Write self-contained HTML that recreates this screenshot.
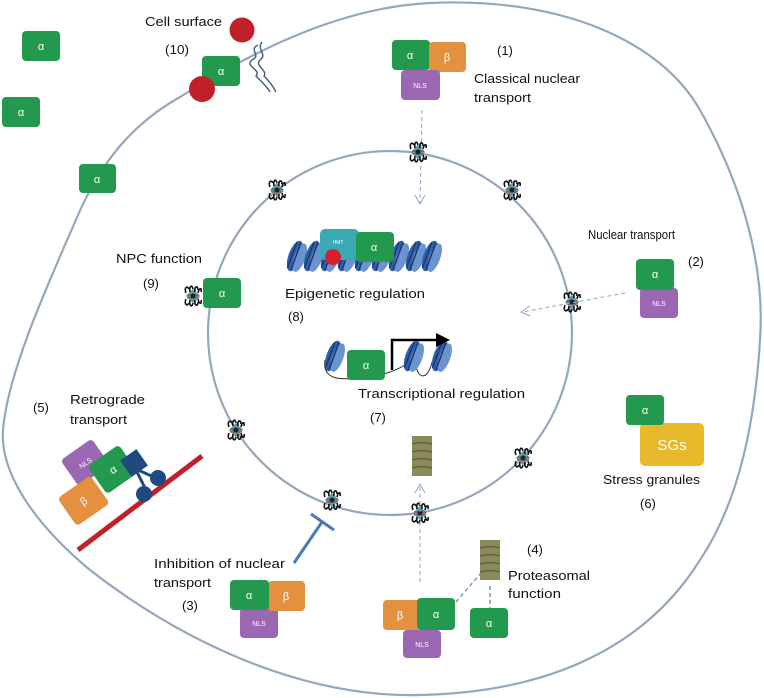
<!DOCTYPE html>
<html><head><meta charset="utf-8"><style>
html,body{margin:0;padding:0;background:#fff;}
svg{display:block;}
text{font-family:"Liberation Sans",sans-serif;fill:#111;}
.lb{font-size:13px;}
.w{fill:#fff;font-size:11px;}
.s{fill:#fff;font-size:7px;}
</style></head><body>
<svg width="764" height="698" viewBox="0 0 764 698" xmlns="http://www.w3.org/2000/svg">
<defs>
<g id="npc">
<rect x="-5" y="-5" width="10" height="10" fill="#4aa3a8" transform="rotate(45)"/>
<path d="M-7,-3 C-9,-8 -6,-11 -4,-7 M-3,-4 C-4,-10 -1,-12 0,-7 M2,-4 C1,-10 5,-11 5,-6 M5,-3 C6,-8 9,-9 8,-4" stroke="#111" stroke-width="1.6" fill="none"/>
<path d="M-7,3 C-9,8 -6,11 -4,7 M-3,4 C-4,10 -1,12 0,7 M2,4 C1,10 5,11 5,6 M5,3 C6,8 9,9 8,4" stroke="#111" stroke-width="1.6" fill="none"/>
<path d="M-6,-1 L6,-1 M-6,2 L6,2" stroke="#c0283a" stroke-width="1"/>
<circle r="2.5" fill="#222"/>
</g>
<g id="nuc">
<ellipse rx="6.5" ry="16" fill="#2e5fa8"/>
<ellipse cx="5" rx="5.5" ry="15" fill="#6a93cf"/>
<line x1="1" y1="-14" x2="1" y2="14" stroke="#1a3566" stroke-width="1.4"/>
<line x1="-3" y1="-14" x2="-3" y2="14" stroke="#1a3566" stroke-width="1.2"/>
</g>
<g id="prot">
<rect x="0" y="0" width="20" height="40" fill="#8a8a5a"/>
<path d="M0,8 Q10,5 20,8 M0,16 Q10,13 20,16 M0,24 Q10,21 20,24 M0,32 Q10,29 20,32" stroke="#5d5d3a" stroke-width="1.2" fill="none"/>
</g>
</defs>

<path d="M180,97 C240,60 330,8 430,3 C560,-3 660,40 700,110 C745,190 765,270 760,340 C755,420 740,500 700,560 C650,640 560,692 420,695 C300,698 180,640 90,570 C30,520 0,470 3,430 C8,370 50,280 78,215 C100,165 130,125 180,97 Z" fill="none" stroke="#94a7bd" stroke-width="2.2"/>
<circle cx="390" cy="333" r="182" fill="none" stroke="#94a7bd" stroke-width="2.2"/>

<rect x="22" y="31" width="38" height="30" rx="4" fill="#22994c"/><text class="w" x="41" y="50" text-anchor="middle">α</text>
<rect x="2" y="97" width="38" height="30" rx="4" fill="#22994c"/><text class="w" x="21" y="116" text-anchor="middle">α</text>
<rect x="79" y="164" width="37" height="29" rx="4" fill="#22994c"/><text class="w" x="97" y="183" text-anchor="middle">α</text>

<text class="lb" x="145" y="26" textLength="77" lengthAdjust="spacingAndGlyphs">Cell surface</text>
<text class="lb" x="165" y="54" textLength="24" lengthAdjust="spacingAndGlyphs">(10)</text>
<path d="M258,45 C248,50 262,55 252,60 C244,66 262,70 256,76 C262,82 268,88 270,92 M262,42 C256,50 268,54 260,60 C254,66 268,70 264,76 C270,82 274,88 276,92" stroke="#3c5a7a" stroke-width="1.4" fill="none"/>
<circle cx="242" cy="30" r="12.5" fill="#c0202a"/>
<rect x="202" y="56" width="38" height="30" rx="4" fill="#22994c"/><text class="w" x="221" y="75" text-anchor="middle">α</text>
<circle cx="202" cy="89" r="13" fill="#c0202a"/>

<rect x="392" y="40" width="38" height="30" rx="4" fill="#22994c"/><text class="w" x="410" y="59" text-anchor="middle">α</text>
<rect x="429" y="42" width="37" height="30" rx="4" fill="#e3913f"/><text class="w" x="447" y="61" text-anchor="middle">β</text>
<rect x="401" y="70" width="39" height="30" rx="4" fill="#9b66b2"/><text class="s" x="420" y="88" text-anchor="middle">NLS</text>
<text class="lb" x="497" y="55">(1)</text>
<text class="lb" x="474" y="83" textLength="106" lengthAdjust="spacingAndGlyphs">Classical nuclear</text>
<text class="lb" x="474" y="102" textLength="57" lengthAdjust="spacingAndGlyphs">transport</text>
<line x1="422" y1="110" x2="420" y2="203" stroke="#8fa6c6" stroke-width="1" stroke-dasharray="4,3"/>
<path d="M415,195 L420,204 L425,195" stroke="#8fa6c6" fill="none"/>

<use href="#npc" x="418" y="152"/>
<use href="#npc" x="277" y="190"/>
<use href="#npc" x="512" y="190"/>
<use href="#npc" x="193" y="296"/>
<use href="#npc" x="572" y="302"/>
<use href="#npc" x="236" y="430"/>
<use href="#npc" x="523" y="458"/>
<use href="#npc" x="332" y="500"/>
<use href="#npc" x="420" y="513"/>

<use href="#nuc" x="295" y="256" transform="rotate(20 295 256)"/>
<use href="#nuc" x="312" y="256" transform="rotate(20 312 256)"/>
<use href="#nuc" x="329" y="256" transform="rotate(20 329 256)"/>
<use href="#nuc" x="346" y="256" transform="rotate(20 346 256)"/>
<use href="#nuc" x="363" y="256" transform="rotate(20 363 256)"/>
<use href="#nuc" x="380" y="256" transform="rotate(20 380 256)"/>
<use href="#nuc" x="397" y="256" transform="rotate(20 397 256)"/>
<use href="#nuc" x="414" y="256" transform="rotate(20 414 256)"/>
<use href="#nuc" x="430" y="256" transform="rotate(20 430 256)"/>
<rect x="320" y="229" width="39" height="31" rx="5" fill="#3aa9b4"/><text class="s" x="338" y="244" text-anchor="middle" style="font-size:5px">HMT</text>
<rect x="356" y="232" width="38" height="30" rx="4" fill="#22994c"/><text class="w" x="374" y="251" text-anchor="middle">α</text>
<circle cx="333" cy="257" r="8" fill="#d8202a"/>
<text class="lb" x="285" y="298" textLength="140" lengthAdjust="spacingAndGlyphs">Epigenetic regulation</text>
<text class="lb" x="288" y="321">(8)</text>

<text class="lb" x="116" y="263" textLength="86" lengthAdjust="spacingAndGlyphs">NPC function</text>
<text class="lb" x="143" y="288">(9)</text>
<rect x="203" y="278" width="38" height="30" rx="4" fill="#22994c"/><text class="w" x="222" y="297" text-anchor="middle">α</text>

<path d="M325,360 C322,380 340,380 360,378 C380,376 395,372 410,362 M416,365 C418,380 428,380 432,362" stroke="#333" stroke-width="1" fill="none"/>
<use href="#nuc" x="333" y="356" transform="rotate(20 333 356)"/>
<use href="#nuc" x="412" y="356" transform="rotate(20 412 356)"/>
<use href="#nuc" x="440" y="356" transform="rotate(20 440 356)"/>
<rect x="347" y="350" width="38" height="30" rx="4" fill="#22994c"/><text class="w" x="366" y="369" text-anchor="middle">α</text>
<path d="M392,370 L392,340 L438,340" stroke="#000" stroke-width="2.5" fill="none"/>
<path d="M436,333 L450,340 L436,347 Z" fill="#000"/>
<text class="lb" x="358" y="398" textLength="167" lengthAdjust="spacingAndGlyphs">Transcriptional regulation</text>
<text class="lb" x="370" y="422">(7)</text>

<text class="lb" x="588" y="239" textLength="87" lengthAdjust="spacingAndGlyphs">Nuclear transport</text>
<text class="lb" x="688" y="266">(2)</text>
<rect x="640" y="288" width="38" height="30" rx="4" fill="#9b66b2"/><text class="s" x="659" y="306" text-anchor="middle">NLS</text>
<rect x="636" y="259" width="38" height="31" rx="4" fill="#22994c"/><text class="w" x="655" y="278" text-anchor="middle">α</text>
<line x1="625" y1="293" x2="522" y2="312" stroke="#8fa6c6" stroke-width="1" stroke-dasharray="4,3"/>
<path d="M530,306 L521,312 L530,316" stroke="#8fa6c6" fill="none"/>

<rect x="640" y="423" width="64" height="43" rx="5" fill="#e8b92a"/><text x="672" y="450" text-anchor="middle" style="fill:#fff;font-size:15px">SGs</text>
<rect x="626" y="395" width="38" height="30" rx="4" fill="#22994c"/><text class="w" x="645" y="414" text-anchor="middle">α</text>
<text class="lb" x="603" y="484" textLength="97" lengthAdjust="spacingAndGlyphs">Stress granules</text>
<text class="lb" x="640" y="508">(6)</text>

<use href="#prot" x="412" y="436"/>
<line x1="420" y1="582" x2="420" y2="485" stroke="#8fa6c6" stroke-width="1" stroke-dasharray="4,3"/>
<path d="M415,493 L420,484 L425,493" stroke="#8fa6c6" fill="none"/>
<use href="#prot" x="480" y="540"/>
<line x1="456" y1="602" x2="481" y2="573" stroke="#5f7fa0" stroke-width="1.2" stroke-dasharray="4,3"/>
<line x1="490" y1="586" x2="490" y2="608" stroke="#5f7fa0" stroke-width="1.2" stroke-dasharray="4,3"/>
<text class="lb" x="527" y="554">(4)</text>
<text class="lb" x="508" y="580" textLength="82" lengthAdjust="spacingAndGlyphs">Proteasomal</text>
<text class="lb" x="508" y="598" textLength="53" lengthAdjust="spacingAndGlyphs">function</text>
<rect x="383" y="600" width="38" height="30" rx="4" fill="#e3913f"/><text class="w" x="400" y="619" text-anchor="middle">β</text>
<rect x="403" y="630" width="38" height="28" rx="4" fill="#9b66b2"/><text class="s" x="422" y="647" text-anchor="middle">NLS</text>
<rect x="417" y="598" width="38" height="32" rx="4" fill="#22994c"/><text class="w" x="436" y="618" text-anchor="middle">α</text>
<rect x="470" y="608" width="38" height="30" rx="4" fill="#22994c"/><text class="w" x="489" y="627" text-anchor="middle">α</text>

<line x1="294" y1="563" x2="322" y2="522" stroke="#4b79b0" stroke-width="3"/>
<line x1="311" y1="514" x2="334" y2="530" stroke="#4b79b0" stroke-width="3"/>
<text class="lb" x="154" y="568" textLength="131" lengthAdjust="spacingAndGlyphs">Inhibition of nuclear</text>
<text class="lb" x="154" y="587" textLength="57" lengthAdjust="spacingAndGlyphs">transport</text>
<text class="lb" x="182" y="610">(3)</text>
<rect x="240" y="608" width="38" height="30" rx="4" fill="#9b66b2"/><text class="s" x="259" y="626" text-anchor="middle">NLS</text>
<rect x="268" y="581" width="37" height="30" rx="4" fill="#e3913f"/><text class="w" x="286" y="600" text-anchor="middle">β</text>
<rect x="230" y="580" width="39" height="30" rx="4" fill="#22994c"/><text class="w" x="249" y="599" text-anchor="middle">α</text>

<text class="lb" x="33" y="412">(5)</text>
<text class="lb" x="70" y="404" textLength="75" lengthAdjust="spacingAndGlyphs">Retrograde</text>
<text class="lb" x="70" y="424" textLength="57" lengthAdjust="spacingAndGlyphs">transport</text>
<line x1="78" y1="550" x2="202" y2="456" stroke="#c0202a" stroke-width="5"/>
<g transform="rotate(-35 86 462)">
<rect x="66" y="446" width="38" height="32" rx="4" fill="#9b66b2"/><text class="s" x="85" y="465" text-anchor="middle">NLS</text>
</g>
<g transform="rotate(-35 83 500)">
<rect x="63" y="484" width="40" height="34" rx="4" fill="#e3913f"/><text class="w" x="83" y="505" text-anchor="middle">β</text>
</g>
<g transform="rotate(-35 112 470)">
<rect x="94" y="453" width="38" height="34" rx="4" fill="#22994c"/><text class="w" x="113" y="474" text-anchor="middle">α</text>
</g>
<g fill="#1f4a80">
<rect x="124" y="453" width="20" height="20" transform="rotate(-35 134 463)"/>
<line x1="136" y1="470" x2="145" y2="488" stroke="#1f4a80" stroke-width="3"/>
<line x1="138" y1="470" x2="156" y2="478" stroke="#1f4a80" stroke-width="3"/>
<circle cx="158" cy="478" r="8"/>
<circle cx="144" cy="494" r="8"/>
</g>
</svg>
</body></html>
